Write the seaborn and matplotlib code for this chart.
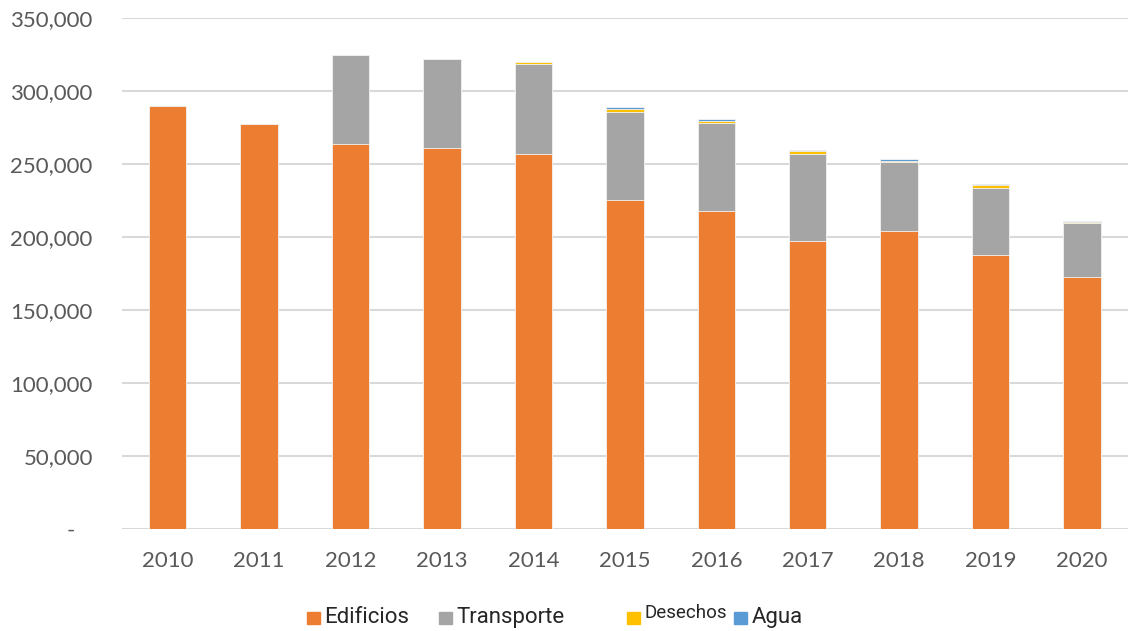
import matplotlib
matplotlib.use("Agg")
import matplotlib.pyplot as plt
import matplotlib.ticker as mticker
from matplotlib.patches import Rectangle
import numpy as np
import pandas as pd
import seaborn as sns

# values (tCO2e per year)
years = ["2010", "2011", "2012", "2013", "2014", "2015", "2016", "2017", "2018", "2019", "2020"]
edificios = [289700, 277600, 263600, 260900, 257000, 225200, 217700, 197400, 204000, 187700, 172900]
transporte = [0, 0, 61200, 60800, 61800, 60700, 60600, 59600, 47300, 45700, 36500]
desechos = [0, 0, 0, 0, 1000, 2000, 1300, 1800, 900, 2300, 700]
agua = [0, 0, 0, 0, 0, 900, 900, 1100, 900, 900, 1100]

series_names = ["Edificios", "Transporte", "Desechos", "Agua"]
colors = ["#ED7D31", "#A5A5A5", "#FFC000", "#5B9BD5"]

df = pd.DataFrame({"year": years, "Edificios": edificios, "Transporte": transporte,
                   "Desechos": desechos, "Agua": agua})

sns.set_theme(style="white")
plt.rcParams["font.family"] = ["Lato", "DejaVu Sans"]

fig = plt.figure(figsize=(11.3, 6.31), dpi=100)
ax = fig.add_axes([0.108, 0.1616, 0.890, 0.8099])

# stacked bars: draw cumulative totals from the top layer down
cum = df[series_names].cumsum(axis=1)
for name, color in reversed(list(zip(series_names, colors))):
    sns.barplot(x=df["year"], y=cum[name], color=color, width=0.41, order=years,
                saturation=1, edgecolor="#f4f4f4", linewidth=0.6, ax=ax)

ax.set_ylim(0, 350000)
ax.set_xlim(-0.5, 10.5)
ax.yaxis.set_major_locator(mticker.MultipleLocator(50000))
ax.yaxis.set_major_formatter(mticker.FuncFormatter(
    lambda v, p: "-   " if v == 0 else f"{v:,.0f}"))
ax.grid(axis="y", color="#d9d9d9", linewidth=1.5)
ax.set_axisbelow(True)
for s in ax.spines.values():
    s.set_visible(False)
ax.set_xlabel("")
ax.set_ylabel("")
ax.tick_params(axis="y", length=0, pad=21, labelsize=16, labelcolor="#595959")
ax.tick_params(axis="x", length=0, pad=16, labelsize=16, labelcolor="#595959")

# legend laid out like the original (Desechos slightly smaller and raised)
legend_items = [
    ("Edificios", colors[0], 307, 324, 622.7, 16),
    ("Transporte", colors[1], 439, 456, 622.7, 16),
    ("Desechos", colors[2], 627, 644, 618.3, 13.5),
    ("Agua", colors[3], 734, 752, 622.7, 16),
]
W, H = 1130, 631
for label, color, sx, tx, base, size in legend_items:
    fig.patches.append(Rectangle((sx / W, 1 - 624 / H), 12.5 / W, 12.5 / H,
                                 transform=fig.transFigure, color=color))
    fig.text(tx / W, 1 - base / H, label, fontsize=size, color="#262626",
             family=["Roboto", "DejaVu Sans"], va="baseline", ha="left")

fig.savefig("out.png", dpi=100, facecolor="white")
